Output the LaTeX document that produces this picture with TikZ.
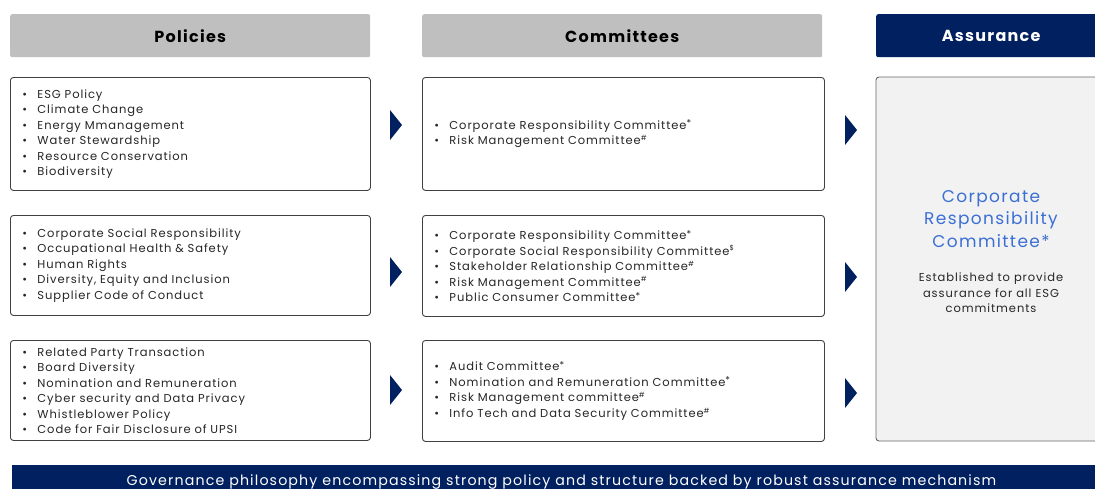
\documentclass[tikz,border=0pt]{standalone}
\usepackage{fontspec}
\setmainfont{Poppins}[LetterSpace=8]
\usetikzlibrary{positioning}
\definecolor{navy}{HTML}{002060}
\definecolor{hdgray}{HTML}{BFBFBF}
\definecolor{boxfill}{HTML}{F2F2F2}
\definecolor{txt}{HTML}{262626}
\definecolor{crblue}{HTML}{3B6FD4}
\newcommand\bl[1]{\makebox[15pt][l]{\textbullet}#1\\}
\newcommand\sst[1]{\textsuperscript{\fontsize{7}{7}\selectfont #1}}
\newcommand\myast{\raisebox{2.5pt}{\fontsize{9.5}{10}\selectfont *}}
\tikzset{
  header/.style={fill=hdgray, rounded corners=2pt, minimum height=43pt, font=\fontsize{16}{18}\selectfont\bfseries, text=black, inner sep=0pt},
  navyheader/.style={fill=navy, rounded corners=2pt, minimum height=43pt, font=\fontsize{16}{18}\selectfont\bfseries, text=white, inner sep=0pt},
  listbox/.style={draw=black!75, line width=0.9pt, rounded corners=3pt, fill=white, align=left, inner xsep=12pt, inner ysep=0pt, font=\fontsize{11.5}{15.5}\selectfont, text=txt, anchor=north west},
  pbox/.style={listbox, text width=336pt},
  cbox/.style={listbox, text width=378pt},
  tri/.style={fill=navy},
}
\begin{document}
\begin{tikzpicture}[x=1pt,y=-1pt]
\useasboundingbox (0,0) rectangle (1095,488);
% headers
\node[header, minimum width=360pt, anchor=north west] (hp) at (10,14) {Policies};
\node[header, minimum width=400pt, anchor=north west] (hc) at (422,14) {Committees};
\node[navyheader, minimum width=230pt, anchor=north west] (ha) at (876,14) {Assurance};
% policy boxes
\node[pbox, minimum height=113pt] (p1) at (10,77) {\bl{ESG Policy}\bl{Climate Change}\bl{Energy Mmanagement}\bl{Water Stewardship}\bl{Resource Conservation}\bl{Biodiversity}};
\node[pbox, minimum height=100pt] (p2) at (10,215) {\bl{Corporate Social Responsibility}\bl{Occupational Health \& Safety}\bl{Human Rights}\bl{Diversity, Equity and Inclusion}\bl{Supplier Code of Conduct}};
\node[pbox, minimum height=100pt] (p3) at (10,340) {\bl{Related Party Transaction}\bl{Board Diversity}\bl{Nomination and Remuneration}\bl{Cyber security and Data Privacy}\bl{Whistleblower Policy}\bl{Code for Fair Disclosure of UPSI}};
% committee boxes
\node[cbox, minimum height=113pt] (c1) at (422,77) {\bl{Corporate Responsibility Committee\myast}\bl{Risk Management Committee\sst{\#}}};
\node[cbox, minimum height=101pt] (c2) at (422,215) {\bl{Corporate Responsibility Committee\myast}\bl{Corporate Social Responsibility Committee\sst{\$}}\bl{Stakeholder Relationship Committee\sst{\#}}\bl{Risk Management Committee\sst{\#}}\bl{Public Consumer Committee\myast}};
\node[cbox, minimum height=101pt] (c3) at (422,340) {\bl{Audit Committee\myast}\bl{Nomination and Remuneration Committee\myast}\bl{Risk Management committee\sst{\#}}\bl{Info Tech and Data Security Committee\sst{\#}}};
% assurance box
\draw[draw=black!60, line width=0.9pt, fill=boxfill, rounded corners=3pt] (1110,77) -- (876,77) -- (876,441) -- (1110,441);
\node[text=crblue, align=center, font=\fontsize{17}{22.5}\selectfont] (at) at (991,219) {Corporate\\Responsibility\\Committee*};
\node[text=txt, align=center, font=\fontsize{11.5}{15.5}\selectfont] (ad) at (991,293) {Established to provide\\assurance for all ESG\\commitments};
% triangles
\foreach \x/\y in {390/125, 390/272, 390/390, 845/130, 845/277, 845/393}{
  \fill[tri] (\x,\y-15) -- (\x+12,\y) -- (\x,\y+15) -- cycle;
}
% bottom bar
\fill[navy] (12,465) rectangle (1100,492);
\node[anchor=base, inner sep=0pt, text=white, font=\fontsize{14.2}{16}\selectfont] (bar) at (561.5,485) {Governance philosophy encompassing strong policy and structure backed by robust assurance mechanism};
\end{tikzpicture}
\end{document}
